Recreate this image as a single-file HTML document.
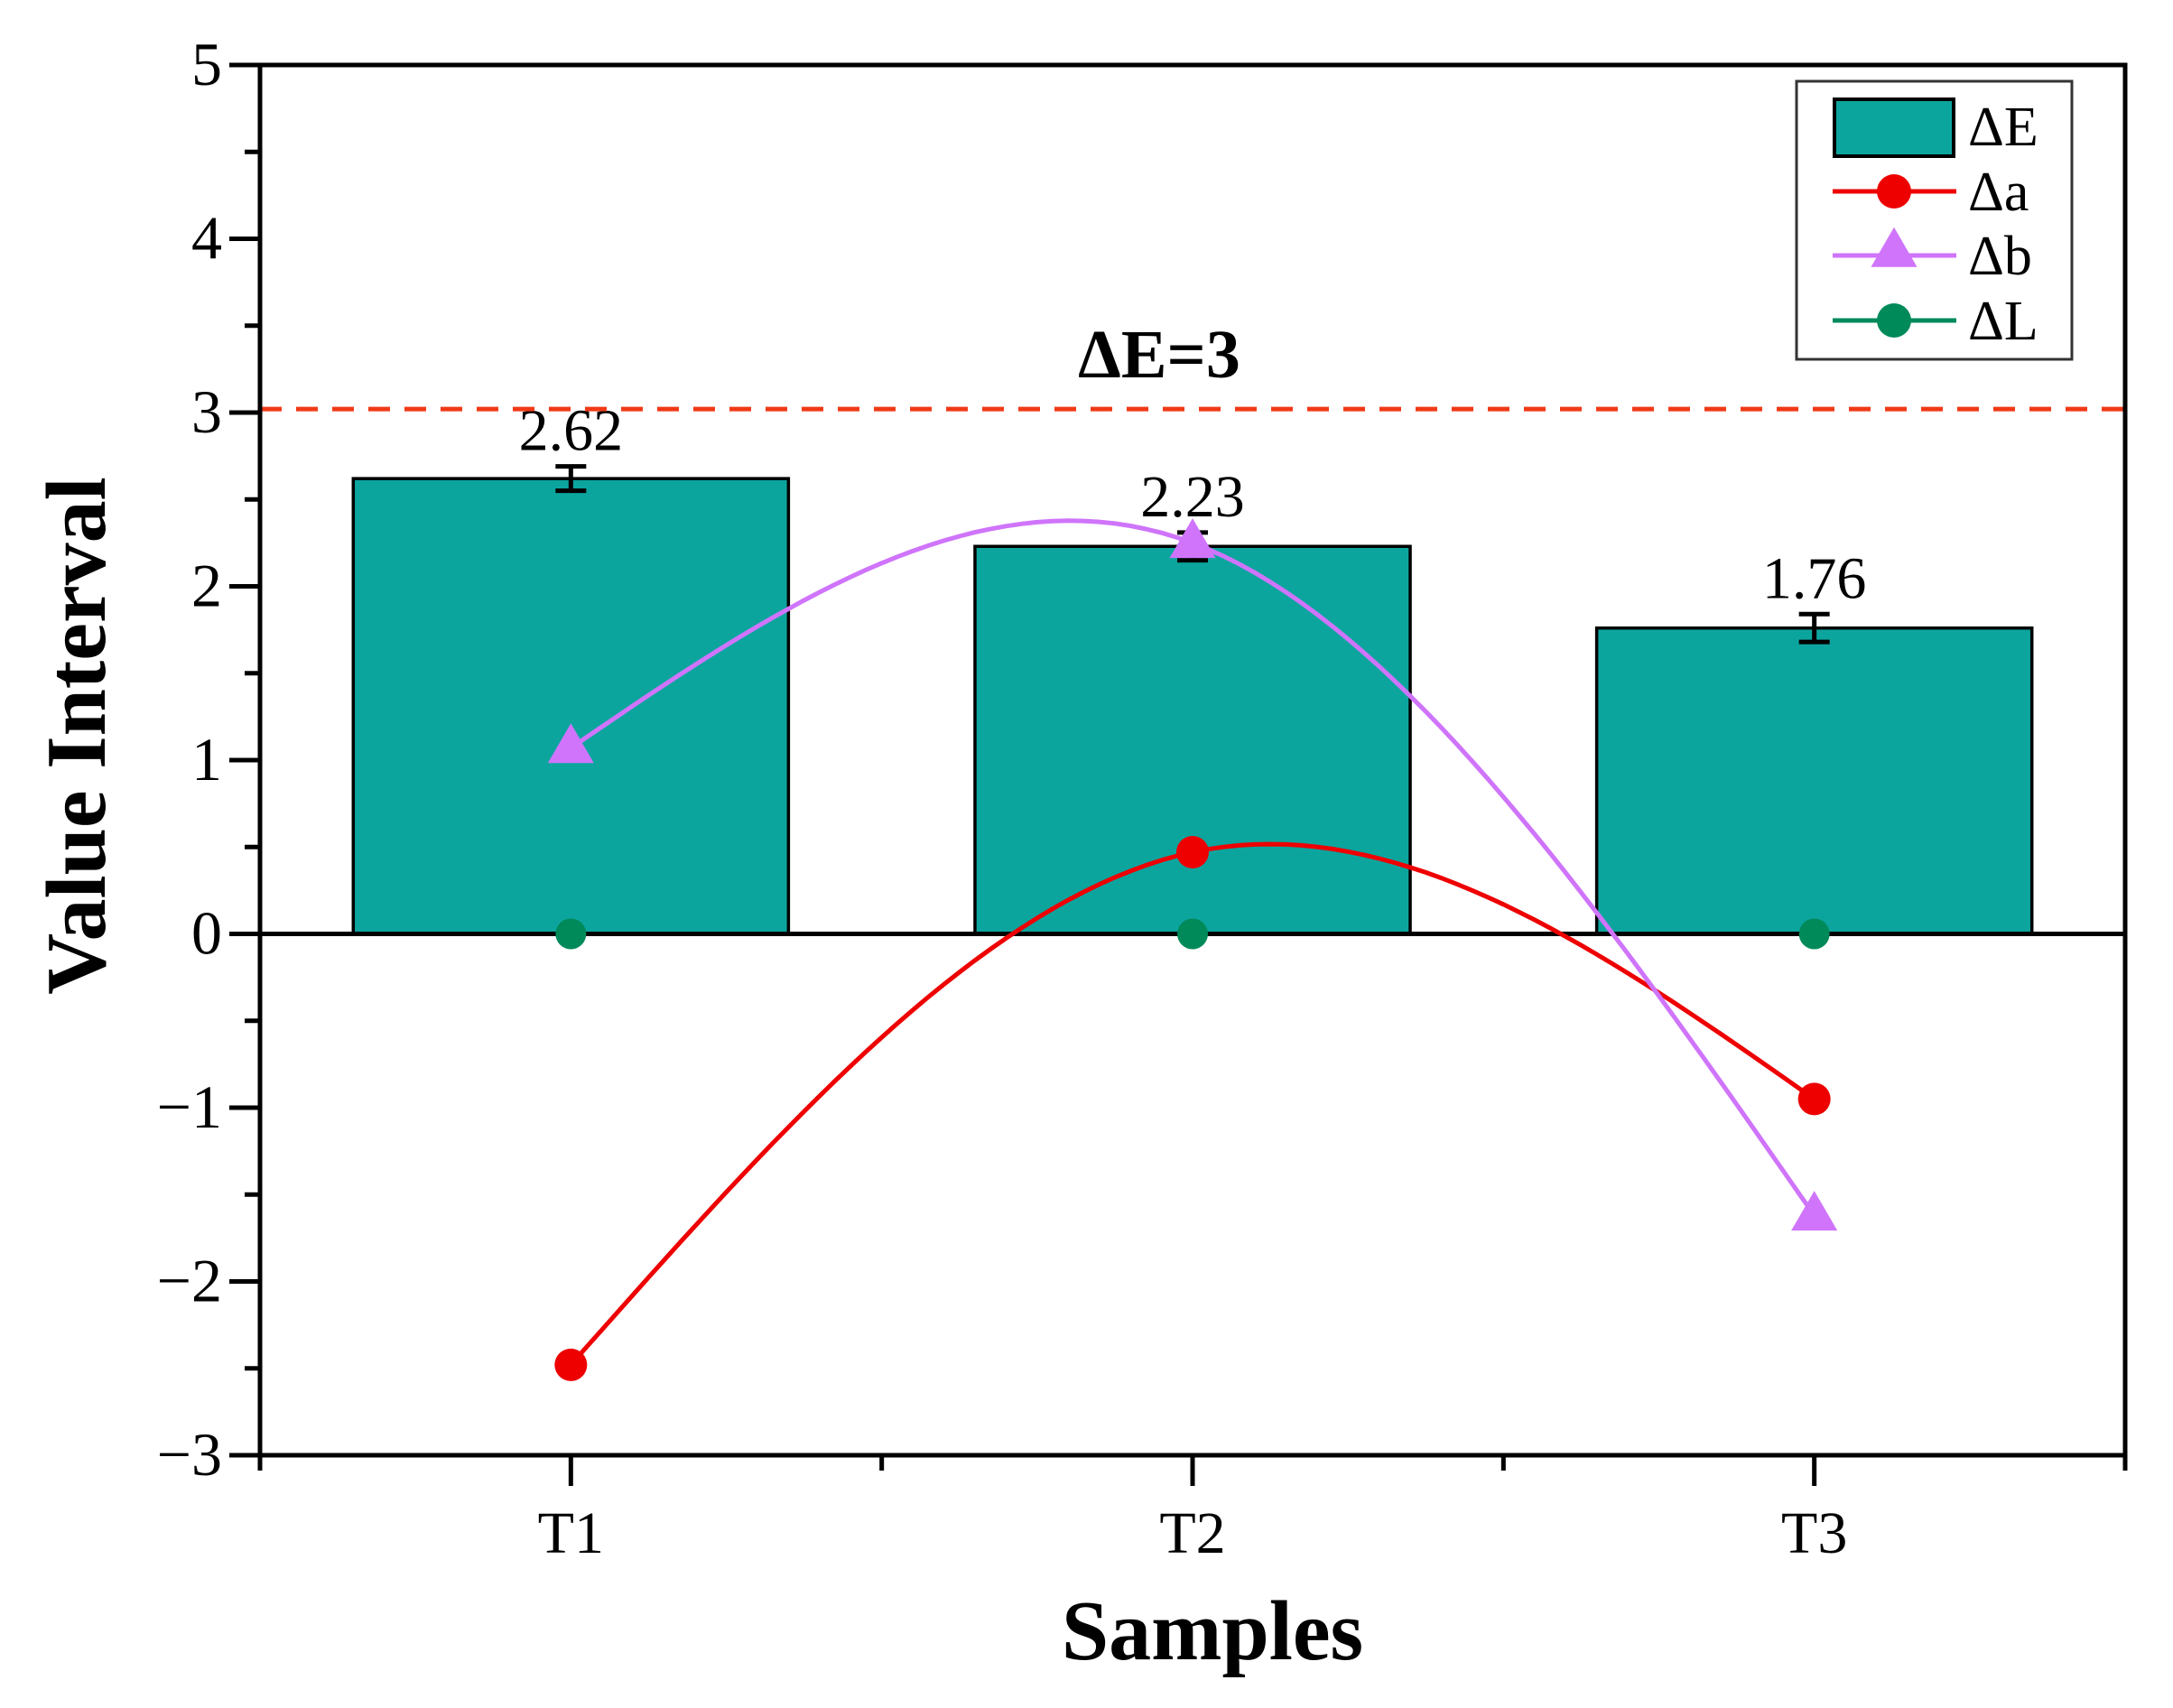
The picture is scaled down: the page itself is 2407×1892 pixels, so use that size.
<!DOCTYPE html>
<html><head><meta charset="utf-8"><style>
html,body{margin:0;padding:0;background:#fff;}
svg{display:block;font-family:"Liberation Serif",serif;}
</style></head><body>
<svg id="chart" width="2407" height="1892" viewBox="0 0 2407 1892">
<g id="g-bars"></g>
<g id="g-lines"></g>
<g id="g-axes"></g>
<g id="g-legend"></g>
</svg>
<script>
const categories = ["T1","T2","T3"];
const deltaE = [2.62, 2.23, 1.76];
const deltaEErr = [0.07, 0.08, 0.08];
const deltaA = [-2.48, 0.47, -0.95];
const deltaB = [1.07, 2.25, -1.62];
const deltaL = [0, 0, 0];
const yTicks = [-3,-2,-1,0,1,2,3,4,5];
const threshold = 3.02;

const NS = "http://www.w3.org/2000/svg";
const L = 288, R = 2354, T = 72, B = 1612;
const yMin = -3, yMax = 5;
function y(v){ return B - (v - yMin) / (yMax - yMin) * (B - T); }
const step = (R - L) / categories.length;
function x(i){ return L + step * (i + 0.5); }
function el(tag, attrs, parent, text){
  const e = document.createElementNS(NS, tag);
  for (const k in attrs) e.setAttribute(k, attrs[k]);
  if (text !== undefined) e.textContent = text;
  parent.appendChild(e); return e;
}
const gBars = document.getElementById('g-bars');
const gLines = document.getElementById('g-lines');
const gAxes = document.getElementById('g-axes');
const gLeg = document.getElementById('g-legend');

const bw = step * 0.7;
deltaE.forEach((v, i) => {
  const r = el('rect', {x: x(i) - bw/2, y: y(v), width: bw, height: y(0) - y(v), fill: '#0ca59e', stroke: '#000', 'stroke-width': 3.5}, gBars);
  
  
  const e = deltaEErr[i];
  const eb = el('path', {d: `M${x(i)},${y(v+e)}V${y(v-e)}M${x(i)-17},${y(v+e)}H${x(i)+17}M${x(i)-17},${y(v-e)}H${x(i)+17}`, stroke: '#000', 'stroke-width': 5, fill: 'none'}, gBars);
  
  
  const t = el('text', {x: x(i), y: y(v + e) - 18, 'text-anchor': 'middle', 'font-size': 66}, gBars, v.toFixed(2));
  
  
});

const th = el('line', {x1: L, x2: R, y1: y(threshold), y2: y(threshold), stroke: '#f03a17', 'stroke-width': 5, 'stroke-dasharray': '24 16'}, gLines);


const thl = el('text', {x: 1284, y: 418, 'text-anchor': 'middle', 'font-size': 76, 'font-weight': 'bold'}, gLines, 'ΔE=3');



const zl = el('line', {x1: L, x2: R, y1: y(0), y2: y(0), stroke: '#000', 'stroke-width': 5}, gLines);



function splinePath(vals){
  const n = vals.length;
  const M = new Array(n).fill(0);
  const a = [], b = [], c = [], d = [];
  for (let i = 1; i < n-1; i++){ a.push(1); b.push(4); c.push(1); d.push(6*(vals[i-1]-2*vals[i]+vals[i+1])); }
  const m = d.length;
  for (let i = 1; i < m; i++){ const w = a[i]/b[i-1]; b[i] -= w*c[i-1]; d[i] -= w*d[i-1]; }
  if (m > 0){
    const s = new Array(m); s[m-1] = d[m-1]/b[m-1];
    for (let i = m-2; i >= 0; i--) s[i] = (d[i] - c[i]*s[i+1]) / b[i];
    for (let i = 0; i < m; i++) M[i+1] = s[i];
  }
  let p = '';
  for (let i = 0; i < n-1; i++){
    for (let k = 0; k <= 40; k++){
      const t = k/40;
      const v = (1-t)*vals[i] + t*vals[i+1] + (Math.pow(1-t,3)-(1-t))*M[i]/6 + (t*t*t - t)*M[i+1]/6;
      p += (p ? 'L' : 'M') + (x(i) + t*step).toFixed(1) + ',' + y(v).toFixed(1);
    }
  }
  return p;
}
function tri(cx, cy, s){ return `M${cx},${cy - s*0.62}L${cx + s*0.58},${cy + s*0.38}L${cx - s*0.58},${cy + s*0.38}Z`; }

const sa = el('path', {d: splinePath(deltaA), stroke: '#ee0000', 'stroke-width': 5, fill: 'none'}, gLines);


const sb = el('path', {d: splinePath(deltaB), stroke: '#cf74fb', 'stroke-width': 5, fill: 'none'}, gLines);



deltaL.forEach((v, i) => {
  const c = el('circle', {cx: x(i), cy: y(v), r: 17, fill: '#008a5a'}, gLines);
  
  
});
deltaA.forEach((v, i) => {
  const c = el('circle', {cx: x(i), cy: y(v), r: 18, fill: '#ee0000'}, gLines);
  
  
});
deltaB.forEach((v, i) => {
  const c = el('path', {d: tri(x(i), y(v), 44), fill: '#cf74fb'}, gLines);
  
  
});

const frame = el('rect', {x: L, y: T, width: R - L, height: B - T, fill: 'none', stroke: '#000', 'stroke-width': 5}, gAxes);



yTicks.forEach(v => {
  const tk = el('line', {x1: L - 34, x2: L, y1: y(v), y2: y(v), stroke: '#000', 'stroke-width': 5}, gAxes);
  
  
  const lb = el('text', {x: L - 42, y: y(v) + 22, 'text-anchor': 'end', 'font-size': 68}, gAxes, v < 0 ? '\u2212' + Math.abs(v) : String(v));
  
  
  if (v < yMax){
    const mt = el('line', {x1: L - 17, x2: L, y1: y(v + 0.5), y2: y(v + 0.5), stroke: '#000', 'stroke-width': 5}, gAxes);
    
    
  }
});
categories.forEach((c, i) => {
  const tk = el('line', {x1: x(i), x2: x(i), y1: B, y2: B + 34, stroke: '#000', 'stroke-width': 5}, gAxes);
  
  
  const lb = el('text', {x: x(i), y: 1720, 'text-anchor': 'middle', 'font-size': 66}, gAxes, c);
  
  
});
for (let i = 0; i <= categories.length; i++){
  const mt = el('line', {x1: L + i*step, x2: L + i*step, y1: B, y2: B + 17, stroke: '#000', 'stroke-width': 5}, gAxes);
  
  
}
const xt = el('text', {x: 1343, y: 1838, 'text-anchor': 'middle', 'font-size': 94, 'font-weight': 'bold'}, gAxes, 'Samples');


const yt = el('text', {x: 0, y: 0, 'text-anchor': 'middle', 'font-size': 94, 'font-weight': 'bold', transform: 'translate(116,815) rotate(-90)'}, gAxes, 'Value Interval');



const lb = el('rect', {x: 1990, y: 90, width: 305, height: 308, fill: '#fff', stroke: '#333', 'stroke-width': 3}, gLeg);


const sw = el('rect', {x: 2032, y: 110, width: 132, height: 63, fill: '#0ca59e', stroke: '#000', 'stroke-width': 4}, gLeg);


const legItems = [['ΔE', 140, null], ['Δa', 212, '#ee0000'], ['Δb', 283, '#cf74fb'], ['ΔL', 355, '#008a5a']];
legItems.forEach((it, k) => {
  if (it[2]){
    const ln = el('line', {x1: 2030, x2: 2167, y1: it[1], y2: it[1], stroke: it[2], 'stroke-width': 5}, gLeg);
    
    
    let mk;
    if (k === 2) mk = el('path', {d: tri(2098, it[1] - 4, 44), fill: it[2]}, gLeg);
    else mk = el('circle', {cx: 2098, cy: it[1], r: 19, fill: it[2]}, gLeg);
    
    
  }
  const tx = el('text', {x: 2180, y: it[1] + 21, 'font-size': 62}, gLeg, it[0]);
  
  
});
</script>
</body></html>
